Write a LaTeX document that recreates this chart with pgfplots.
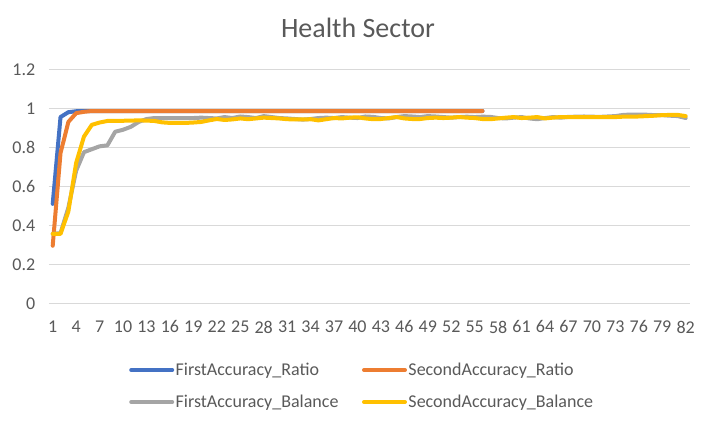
\documentclass[border=0pt]{standalone}
\usepackage{fontspec}
\setmainfont{Carlito}
\usepackage{pgfplots}
\usepackage{pgfplotstable}
\pgfplotsset{compat=1.18}
\definecolor{cblue}{HTML}{4472C4}
\definecolor{corange}{HTML}{ED7D31}
\definecolor{cgray}{HTML}{A5A5A5}
\definecolor{cyellow}{HTML}{FFC000}
\definecolor{ctext}{HTML}{595959}
\definecolor{cgrid}{HTML}{D9D9D9}

% ratio runs: 56 epochs
\pgfplotstableread{
x fr sr
1 0.51 0.295
2 0.955 0.77
3 0.98 0.93
4 0.985 0.975
5 0.986 0.982
6 0.986 0.986
7 0.986 0.986
8 0.986 0.986
9 0.986 0.986
10 0.986 0.986
11 0.986 0.986
12 0.986 0.986
13 0.986 0.986
14 0.986 0.986
15 0.986 0.986
16 0.986 0.986
17 0.986 0.986
18 0.986 0.986
19 0.986 0.986
20 0.986 0.986
21 0.986 0.986
22 0.986 0.986
23 0.986 0.986
24 0.986 0.986
25 0.986 0.986
26 0.986 0.986
27 0.986 0.986
28 0.986 0.986
29 0.986 0.986
30 0.986 0.986
31 0.986 0.986
32 0.986 0.986
33 0.986 0.986
34 0.986 0.986
35 0.986 0.986
36 0.986 0.986
37 0.986 0.986
38 0.986 0.986
39 0.986 0.986
40 0.986 0.986
41 0.986 0.986
42 0.986 0.986
43 0.986 0.986
44 0.986 0.986
45 0.986 0.986
46 0.986 0.986
47 0.986 0.986
48 0.986 0.986
49 0.986 0.986
50 0.986 0.986
51 0.986 0.986
52 0.986 0.986
53 0.986 0.986
54 0.986 0.986
55 0.986 0.986
56 0.986 0.986
}\ratio

% balance runs: 82 epochs
\pgfplotstableread{
x fb sb
1 0.356 0.356
2 0.36 0.356
3 0.49 0.47
4 0.68 0.72
5 0.775 0.855
6 0.79 0.915
7 0.805 0.927
8 0.81 0.935
9 0.88 0.936
10 0.89 0.936
11 0.905 0.937
12 0.93 0.938
13 0.945 0.937
14 0.95 0.935
15 0.95 0.928
16 0.95 0.925
17 0.95 0.925
18 0.95 0.925
19 0.95 0.927
20 0.952 0.93
21 0.95 0.938
22 0.948 0.945
23 0.955 0.94
24 0.95 0.943
25 0.958 0.948
26 0.955 0.944
27 0.95 0.948
28 0.96 0.952
29 0.955 0.95
30 0.95 0.948
31 0.948 0.944
32 0.945 0.943
33 0.942 0.943
34 0.945 0.944
35 0.95 0.938
36 0.952 0.944
37 0.95 0.95
38 0.955 0.948
39 0.952 0.952
40 0.95 0.954
41 0.958 0.948
42 0.956 0.944
43 0.95 0.945
44 0.948 0.95
45 0.955 0.955
46 0.96 0.948
47 0.958 0.945
48 0.955 0.945
49 0.96 0.95
50 0.958 0.952
51 0.955 0.95
52 0.952 0.952
53 0.955 0.955
54 0.957 0.952
55 0.955 0.95
56 0.957 0.945
57 0.956 0.944
58 0.95 0.948
59 0.948 0.952
60 0.952 0.955
61 0.955 0.95
62 0.948 0.952
63 0.944 0.955
64 0.95 0.948
65 0.955 0.952
66 0.952 0.955
67 0.956 0.955
68 0.957 0.955
69 0.958 0.955
70 0.957 0.955
71 0.956 0.955
72 0.958 0.955
73 0.96 0.955
74 0.966 0.957
75 0.968 0.957
76 0.968 0.958
77 0.967 0.96
78 0.965 0.962
79 0.965 0.965
80 0.962 0.966
81 0.96 0.966
82 0.95 0.96
}\balance

\begin{document}
\begin{tikzpicture}
\useasboundingbox (-48.8pt,-118.7pt) rectangle (664.2pt,303.3pt);
\begin{axis}[
  at={(0pt,0pt)}, anchor=south west,
  scale only axis, width=640.8pt, height=234pt,
  xmin=0.5, xmax=82.5, ymin=0, ymax=1.2,
  xtick={1,4,...,82}, ytick={0,0.2,...,1.2},
  yticklabels={0,0.2,0.4,0.6,0.8,1,1.2},
  major tick length=0pt,
  axis line style={draw=none},
  ymajorgrids, grid style={cgrid, line width=1.2pt},
  axis x line*=bottom,
  x axis line style={draw=cgrid, line width=1.2pt},
  /pgf/number format/assume math mode=true,
  tick label style={font=\fontsize{18}{21}\selectfont, text=ctext},
  yticklabel style={xshift=-10pt},
  xticklabel style={yshift=-14pt},
  title={Health Sector},
  title style={font=\fontsize{28}{33}\selectfont, text=ctext, at={(0.4825,1.151)}, anchor=center},
  legend columns=2,
  legend cell align=left,
  legend style={draw=none, fill=none, inner sep=0pt,
    font=\fontsize{18}{21}\selectfont, text=ctext,
    at={(0.1252,-0.248)}, anchor=north west,
    row sep=15pt,
    /tikz/every even column/.append style={column sep=22pt},
    nodes={inner sep=1.5pt}},
  legend image code/.code={\draw[#1, line width=4pt] (0pt,0pt) -- (41pt,0pt);},
  every axis plot/.append style={line width=4pt, line cap=round, line join=round},
]
\addplot[cblue] table[x=x, y=fr] {\ratio};
\addlegendentry{FirstAccuracy\_Ratio}
\addplot[corange] table[x=x, y=sr] {\ratio};
\addlegendentry{SecondAccuracy\_Ratio}
\addplot[cgray] table[x=x, y=fb] {\balance};
\addlegendentry{FirstAccuracy\_Balance}
\addplot[cyellow] table[x=x, y=sb] {\balance};
\addlegendentry{SecondAccuracy\_Balance}
\end{axis}
\end{tikzpicture}
\end{document}
